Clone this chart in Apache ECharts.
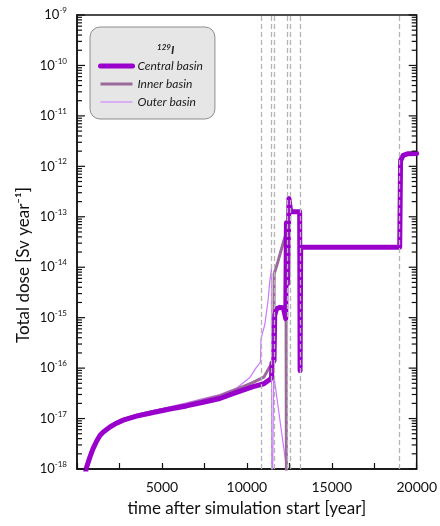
<!DOCTYPE html>
<html>
<head>
<meta charset="UTF-8">
<title>129I total dose</title>
<script src="https://cdn.jsdelivr.net/npm/echarts@6/dist/echarts.min.js"></script>
<style>
  html, body { margin: 0; padding: 0; background: #fff; }
  #chart { width: 440px; height: 526px; }
</style>
</head>
<body>
<div id="chart"></div>
<script>
// years after simulation start, dose in Sv/year
var centralYears = [480, 530, 650, 765, 940, 1160, 1350, 1550, 1940, 2330, 2720, 3510, 4490, 5470, 6450, 7430, 8410, 9390, 10370, 11000, 11450, 11480, 11600, 11640, 11750, 11950, 12150, 12290, 12330, 12400, 12480, 12580, 13110, 13135, 13170, 19000, 19050, 19200, 19500, 20000];
var centralDose = [5e-19, 1.0e-18, 1.32e-18, 1.74e-18, 2.5e-18, 3.6e-18, 4.6e-18, 5.4e-18, 6.8e-18, 8.1e-18, 9.3e-18, 1.12e-17, 1.32e-17, 1.55e-17, 1.78e-17, 2.1e-17, 2.5e-17, 3.3e-17, 4.3e-17, 4.9e-17, 6.3e-17, 1.26e-16, 1.4e-16, 1.12e-15, 1.5e-15, 1.6e-15, 1.58e-15, 9.5e-16, 7.6e-14, 4.7e-15, 2.3e-13, 1.26e-13, 1.26e-13, 8.9e-17, 2.5e-14, 2.5e-14, 1.3e-12, 1.65e-12, 1.78e-12, 1.8e-12];

var innerYears = [480, 530, 650, 765, 940, 1160, 1350, 1550, 1940, 2330, 2720, 3510, 4490, 5470, 6450, 7430, 8410, 9390, 10370, 11000, 11300, 11580, 11610, 11820, 12130, 12300, 12340];
var innerDose = [5e-19, 1.0e-18, 1.32e-18, 1.74e-18, 2.5e-18, 3.6e-18, 4.7e-18, 5.5e-18, 7.0e-18, 8.4e-18, 9.6e-18, 1.16e-17, 1.38e-17, 1.62e-17, 1.9e-17, 2.3e-17, 2.8e-17, 3.8e-17, 5.2e-17, 6.6e-17, 1.0e-16, 1.35e-16, 7.4e-15, 1.26e-14, 2.95e-14, 4.5e-14, 1e-20];

var outerYears = [480, 530, 650, 765, 940, 1160, 1350, 1550, 1940, 2330, 2720, 3510, 4490, 5470, 6450, 7430, 8410, 9390, 10180, 10530, 10800, 10830, 11060, 11250, 11350, 11450, 11465, 11580, 12380];
var outerDose = [5e-19, 1.0e-18, 1.33e-18, 1.76e-18, 2.55e-18, 3.7e-18, 4.8e-18, 5.7e-18, 7.2e-18, 8.7e-18, 1.0e-17, 1.22e-17, 1.45e-17, 1.7e-17, 2.05e-17, 2.5e-17, 3.0e-17, 4.0e-17, 6.5e-17, 1.0e-16, 1.3e-16, 3.8e-16, 7.4e-16, 2.2e-15, 5.4e-15, 9.3e-15, 1e-20, 7.5e-17, 8e-19];

var eventYears = [10820, 11450, 11590, 12370, 12530, 13120, 19000];

var xTicks = [5000, 10000, 15000, 20000];
var decades = [-18, -17, -16, -15, -14, -13, -12, -11, -10, -9];

function pairs(xs, ys) {
    return xs.map(function (x, i) { return [x, ys[i]]; });
}

// y tick marks (decades + 2..9 sub ticks), drawn on both sides of the plot
var yTickData = [];
decades.forEach(function (d, k) {
    yTickData.push([0, Math.pow(10, d), 1]);
    if (k < decades.length - 1) {
        for (var m = 2; m <= 9; m++) yTickData.push([0, m * Math.pow(10, d), 0]);
    }
});

var chart = echarts.init(document.getElementById('chart'));
var font = 'Lato';

chart.setOption({
    animation: false,
    grid: {
        left: 77, right: 23, top: 15, bottom: 57,
        show: true, borderColor: '#111', borderWidth: 1.5
    },
    title: {
        text: '{s|129}{i|I}',
        left: 152, top: 38,
        textStyle: {
            rich: {
                s: { fontSize: 8, fontStyle: 'italic', fontFamily: font, color: '#222', padding: [0, 0, 6, 0] },
                i: { fontSize: 12, fontStyle: 'italic', fontFamily: font, color: '#222' }
            }
        }
    },
    legend: {
        data: [
            { name: 'Central basin', lineStyle: { width: 5 } },
            { name: 'Inner basin', lineStyle: { width: 3 } },
            { name: 'Outer basin', lineStyle: { width: 1.2 } }
        ],
        orient: 'vertical',
        left: 90, top: 27,
        padding: [33, 12, 11, 8],
        itemGap: 6,
        itemWidth: 32,
        itemHeight: 14,
        itemStyle: { color: 'transparent', borderWidth: 0, opacity: 0 },
        backgroundColor: '#e6e6e6',
        borderColor: '#8c8c8c',
        borderWidth: 1,
        borderRadius: 10,
        textStyle: { fontFamily: font, fontSize: 12, fontStyle: 'italic', color: '#1a1a1a' }
    },
    xAxis: {
        type: 'value',
        min: 0, max: 20000, interval: 2500,
        name: 'time after simulation start [year]',
        nameLocation: 'middle',
        nameGap: 31,
        nameTextStyle: { fontFamily: font, fontSize: 17, color: '#111' },
        axisLine: { lineStyle: { color: '#111', width: 1.5 } },
        axisTick: { inside: true, length: 6, lineStyle: { color: '#111', width: 1.2 } },
        axisLabel: {
            margin: 11, fontFamily: font, fontSize: 14, color: '#111',
            formatter: function (v) { return xTicks.indexOf(v) >= 0 ? String(v) : ''; }
        },
        splitLine: { show: false }
    },
    yAxis: {
        type: 'log',
        logBase: 10,
        min: 1e-18, max: 1e-9,
        splitNumber: 9,
        axisLine: { lineStyle: { color: '#111', width: 1.5 } },
        axisTick: { show: false },
        splitLine: { show: false },
        axisLabel: {
            margin: 10,
            formatter: function (v) {
                return '{b|10}{s|' + Math.round(Math.log10(v)) + '}';
            },
            rich: {
                b: { fontFamily: font, fontSize: 13, color: '#111' },
                s: { fontFamily: font, fontSize: 8, color: '#111', padding: [0, 0, 9, 0] }
            }
        }
    },
    graphic: [{
        type: 'text',
        x: 24, y: 265,
        rotation: Math.PI / 2,
        style: {
            text: 'Total dose [Sv year\u207B\u00B9]',
            font: '17px Lato',
            fill: '#111',
            textAlign: 'center',
            textVerticalAlign: 'middle'
        }
    }],
    series: [
        {
            type: 'custom',
            silent: true,
            data: yTickData,
            renderItem: function (params, api) {
                var v = api.value(1);
                var l = api.coord([0, v]);
                var r = api.coord([20000, v]);
                var len = api.value(2) ? 8 : 5;
                return {
                    type: 'group',
                    children: [
                        { type: 'line', shape: { x1: l[0], y1: l[1], x2: l[0] + len, y2: l[1] }, style: { stroke: '#111', lineWidth: 1.2 } },
                        { type: 'line', shape: { x1: r[0] - len, y1: r[1], x2: r[0], y2: r[1] }, style: { stroke: '#111', lineWidth: 1.2 } }
                    ]
                };
            },
            z: 5
        },
        {
            name: 'Outer basin',
            type: 'line',
            data: pairs(outerYears, outerDose),
            symbol: 'none',
            color: '#cc77ff',
            lineStyle: { width: 1.2, color: '#cc77ff' },
            markLine: {
                silent: true,
                symbol: ['none', 'none'],
                label: { show: false },
                lineStyle: { color: '#b4b4b4', type: [5, 3], width: 1.3 },
                data: eventYears.map(function (y) { return { xAxis: y }; })
            },
            z: 2
        },
        {
            name: 'Inner basin',
            type: 'line',
            data: pairs(innerYears, innerDose),
            symbol: 'none',
            color: '#9a6a9a',
            lineStyle: { width: 3, color: '#9a6a9a' },
            z: 3
        },
        {
            name: 'Central basin',
            type: 'line',
            data: pairs(centralYears, centralDose),
            symbol: 'none',
            color: '#9900cc',
            lineStyle: { width: 5, color: '#9900cc', cap: 'round', join: 'round' },
            z: 4
        }
    ]
});
</script>
</body>
</html>
